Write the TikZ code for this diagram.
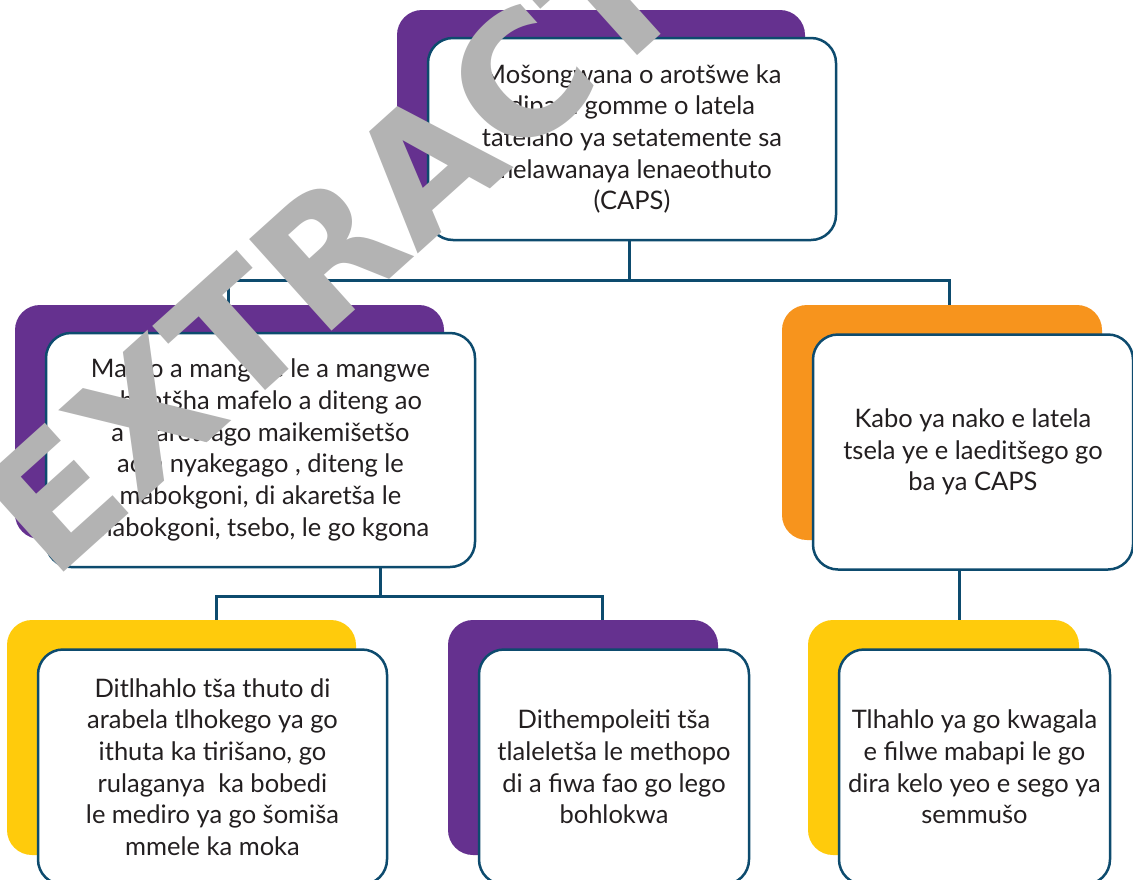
\documentclass[tikz,border=0pt]{standalone}
\usepackage{fontspec}
\setmainfont{Lato}
\setsansfont{DejaVu Sans}
\usetikzlibrary{positioning, calc}

\definecolor{cardpurple}{HTML}{65318F}
\definecolor{cardorange}{HTML}{F7941D}
\definecolor{cardyellow}{HTML}{FFCB0C}
\definecolor{linkblue}{HTML}{0D4B6E}
\definecolor{inkgrey}{HTML}{231F20}
\definecolor{markgrey}{HTML}{B3B3B3}

\tikzset{
  backcard/.style={rounded corners=25pt, inner sep=0pt},
  frontcard/.style={draw=linkblue, line width=2.5pt, fill=white, rounded corners=25pt,
    inner sep=0pt, align=center, text=inkgrey, font=\fontsize{25.5}{31.7}\selectfont},
  link/.style={draw=linkblue, line width=3pt}
}

\begin{document}
\begin{tikzpicture}[x=1pt, y=-1pt]
    \clip (0,0) rectangle (1133,879);
    \fill[white] (0,0) rectangle (1133,879);

    % Verbindungslinien
    \coordinate (j1) at (629,280);
    \coordinate (j2) at (380,596);
    \coordinate (j3) at (959,620);
    \coordinate (d1) at (216,620);
    \coordinate (d2) at (602,620);
    \coordinate (d3) at (228,305);
    \coordinate (d4) at (949,305);
    \draw[link] (629,240) -- (j1);
    \draw[link] (d3) |- (j1) -| (d4);
    \draw[link] (380,567) -- (j2);
    \draw[link] (d1) |- (j2) -| (d2);
    \draw[link] (959,568) -- (j3);

    % Oberste Karte
    \node[backcard, fill=cardpurple, minimum width=408pt, minimum height=202pt] (topbk) at (601,111) {};
    \node[frontcard, minimum width=408pt, minimum height=202pt] (top) at (632,139)
        {Mošongwana o arotšwe ka\\ dipara gomme o latela\\ tatelano ya setatemente sa\\ melawanaya lenaeothuto\\ (CAPS)};

    % Mittlere Ebene
    \node[backcard, fill=cardpurple, minimum width=429pt, minimum height=234pt] (leftbk) at (229.5,422) {};
    \node[frontcard, minimum width=429pt, minimum height=234pt] (left) at (260.5,450)
        {Mareo a mangwe le a mangwe\\ o bontšha mafelo a diteng ao\\ a akaretšago maikemišetšo\\ ao a nyakegago , diteng le\\ mabokgoni, di akaretša le\\ mabokgoni, tsebo, le go kgona};

    \node[backcard, fill=cardorange, minimum width=320pt, minimum height=235pt] (rightbk) at (942,422.5) {};
    \node[frontcard, minimum width=320pt, minimum height=235pt] (right) at (973,452)
        {Kabo ya nako e latela\\ tsela ye e laeditšego go\\ ba ya CAPS};

    % Unterste Ebene
    \node[backcard, fill=cardyellow, minimum width=349pt, minimum height=235pt] (blbk) at (181.5,737.5) {};
    \node[frontcard, minimum width=349pt, minimum height=235pt] (bl) at (212.5,767)
        {Ditlhahlo tša thuto di\\ arabela tlhokego ya go\\ ithuta ka tirišano, go\\ rulaganya~ ka bobedi\\ le mediro ya go šomiša\\ mmele ka moka};

    \node[backcard, fill=cardpurple, minimum width=270pt, minimum height=235pt] (bmbk) at (583,737.5) {};
    \node[frontcard, minimum width=270pt, minimum height=235pt] (bm) at (614,767)
        {Dithempoleiti tša\\ tlaleletša le methopo\\ di a fiwa fao go lego\\ bohlokwa};

    \node[backcard, fill=cardyellow, minimum width=271pt, minimum height=235pt] (brbk) at (943.5,737.5) {};
    \node[frontcard, minimum width=271pt, minimum height=235pt] (br) at (974.5,767)
        {Tlhahlo ya go kwagala\\ e filwe mabapi le go\\ dira kelo yeo e sego ya\\ semmušo};

    % Wasserzeichen
    \node[text=markgrey, font=\sffamily\bfseries\fontsize{169}{169}\selectfont, rotate=42, inner sep=0pt]
        (mark) at (331,249) {EXTRACT};
\end{tikzpicture}
\end{document}
